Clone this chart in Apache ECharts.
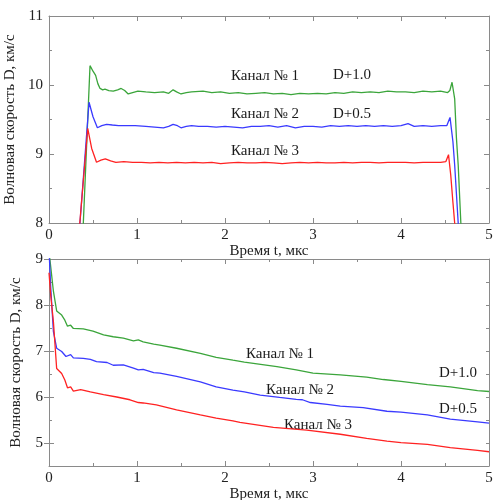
<!DOCTYPE html>
<html><head><meta charset="utf-8">
<script src="https://cdn.jsdelivr.net/npm/echarts@6/dist/echarts.min.js"></script>
<style>html,body{margin:0;padding:0;background:#fff}#c{width:494px;height:500px}</style>
</head><body><div id="c"></div>
<script>
// ---- data ----
const xName = 'Время t, мкс';
const yName = 'Волновая скорость D, км/с';
const seriesNames = ['Канал № 1', 'Канал № 2', 'Канал № 3'];
const offsets = ['D+1.0', 'D+0.5'];
const xTicks = [0, 1, 2, 3, 4, 5];
const yTopTicks = [8, 9, 10, 11];
const yBotTicks = [5, 6, 7, 8, 9];

const topCh1 = [[0.37,7.0],[0.39,8.0],[0.466,10.28],[0.50,10.2],[0.53,10.14],[0.555,10.02],[0.58,9.95],[0.61,9.93],[0.636,9.94],[0.68,9.92],[0.73,9.91],[0.78,9.93],[0.82,9.95],[0.86,9.92],[0.90,9.87],[0.95,9.89],[1.01,9.91],[1.1,9.9],[1.2,9.89],[1.3,9.9],[1.36,9.88],[1.41,9.93],[1.45,9.9],[1.5,9.87],[1.56,9.89],[1.62,9.9],[1.75,9.91],[1.85,9.89],[1.95,9.9],[2.05,9.88],[2.15,9.89],[2.25,9.87],[2.35,9.88],[2.45,9.89],[2.55,9.87],[2.65,9.88],[2.75,9.86],[2.85,9.88],[2.95,9.87],[3.05,9.88],[3.15,9.87],[3.25,9.89],[3.35,9.88],[3.45,9.9],[3.55,9.89],[3.65,9.9],[3.75,9.89],[3.85,9.91],[3.95,9.9],[4.05,9.9],[4.15,9.89],[4.25,9.91],[4.35,9.9],[4.45,9.91],[4.53,9.89],[4.555,9.92],[4.58,10.04],[4.61,9.8],[4.63,9.23],[4.65,8.84],[4.68,8.0],[4.70,7.5]];
const topCh2 = [[0.29,7.0],[0.352,8.0],[0.455,9.75],[0.50,9.54],[0.55,9.38],[0.60,9.41],[0.655,9.43],[0.72,9.42],[0.79,9.41],[0.88,9.41],[0.98,9.41],[1.1,9.4],[1.2,9.39],[1.3,9.38],[1.36,9.4],[1.41,9.43],[1.46,9.41],[1.5,9.38],[1.56,9.4],[1.62,9.41],[1.7,9.4],[1.8,9.4],[1.9,9.39],[2.0,9.4],[2.1,9.39],[2.2,9.38],[2.3,9.4],[2.4,9.4],[2.5,9.41],[2.6,9.39],[2.7,9.41],[2.8,9.38],[2.9,9.4],[3.0,9.4],[3.1,9.39],[3.2,9.41],[3.3,9.4],[3.4,9.41],[3.5,9.4],[3.6,9.41],[3.7,9.4],[3.8,9.41],[3.9,9.4],[4.0,9.41],[4.08,9.44],[4.15,9.4],[4.25,9.41],[4.35,9.4],[4.45,9.41],[4.52,9.41],[4.557,9.53],[4.59,9.18],[4.61,8.84],[4.65,8.0],[4.68,7.4]];
const topCh3 = [[0.28,7.0],[0.35,8.0],[0.44,9.37],[0.485,9.08],[0.54,8.88],[0.59,8.91],[0.64,8.93],[0.7,8.9],[0.76,8.88],[0.85,8.89],[0.95,8.88],[1.05,8.88],[1.15,8.87],[1.25,8.88],[1.35,8.87],[1.45,8.88],[1.55,8.87],[1.65,8.88],[1.75,8.87],[1.85,8.88],[1.95,8.86],[2.05,8.87],[2.15,8.88],[2.25,8.87],[2.35,8.87],[2.45,8.88],[2.55,8.87],[2.65,8.86],[2.75,8.87],[2.85,8.88],[2.95,8.87],[3.05,8.88],[3.15,8.87],[3.25,8.87],[3.35,8.88],[3.45,8.87],[3.55,8.88],[3.65,8.88],[3.75,8.87],[3.85,8.88],[3.95,8.88],[4.05,8.88],[4.15,8.87],[4.25,8.88],[4.35,8.88],[4.45,8.88],[4.51,8.89],[4.54,8.99],[4.565,8.7],[4.59,8.3],[4.61,8.0],[4.64,7.4]];

const botCh1 = [[0,9.4],[0.01,9.0],[0.05,8.3],[0.087,7.87],[0.144,7.78],[0.18,7.67],[0.21,7.54],[0.246,7.56],[0.277,7.49],[0.39,7.48],[0.5,7.43],[0.62,7.35],[0.73,7.31],[0.845,7.28],[0.96,7.22],[1.015,7.24],[1.07,7.2],[1.19,7.15],[1.26,7.13],[1.45,7.06],[1.72,6.95],[1.9,6.86],[2.09,6.8],[2.22,6.76],[2.59,6.66],[2.81,6.59],[3.0,6.52],[3.31,6.48],[3.61,6.43],[3.8,6.38],[4.0,6.34],[4.3,6.27],[4.56,6.22],[4.87,6.14],[5.0,6.12]];
const botCh2 = [[0,9.2],[0.02,8.37],[0.05,7.42],[0.087,7.06],[0.144,6.99],[0.193,6.88],[0.246,6.92],[0.277,6.85],[0.39,6.84],[0.47,6.82],[0.54,6.77],[0.66,6.75],[0.73,6.69],[0.845,6.7],[0.96,6.63],[1.015,6.59],[1.07,6.6],[1.19,6.53],[1.26,6.52],[1.45,6.45],[1.72,6.33],[1.9,6.22],[2.09,6.15],[2.22,6.11],[2.4,6.04],[2.62,5.99],[2.81,5.95],[2.88,5.94],[2.97,5.88],[3.16,5.84],[3.31,5.8],[3.57,5.77],[3.84,5.69],[4.0,5.67],[4.3,5.61],[4.56,5.52],[4.87,5.46],[5.0,5.43]];
const botCh3 = [[0,8.7],[0.02,8.2],[0.05,7.64],[0.087,6.62],[0.144,6.51],[0.18,6.37],[0.21,6.2],[0.246,6.22],[0.277,6.13],[0.36,6.16],[0.47,6.11],[0.62,6.05],[0.77,6.0],[0.92,5.94],[1.015,5.88],[1.07,5.87],[1.22,5.83],[1.45,5.72],[1.72,5.61],[1.9,5.54],[2.09,5.48],[2.17,5.45],[2.55,5.34],[2.93,5.28],[3.31,5.19],[3.61,5.1],[3.84,5.04],[4.0,5.01],[4.3,4.97],[4.56,4.9],[4.87,4.84],[5.0,4.81]];

// ---- style ----
const colors = ['#3ba53b', '#3a3aff', '#ff2222'];
const FONT = '"Liberation Serif", "Times New Roman", serif';
const axisCol = '#8a8a8a';

function xAxes(grid) {
  const base = {
    type: 'value', gridIndex: grid, min: 0, max: 5, interval: 1,
    axisLine: {show: true, onZero: false, lineStyle: {color: axisCol, width: 1}},
    axisTick: {show: true, inside: true, length: 5, lineStyle: {color: axisCol}},
    minorTick: {show: true, splitNumber: 2, length: 3, lineStyle: {color: axisCol}},
    splitLine: {show: false}, minorSplitLine: {show: false}
  };
  return [
    Object.assign({}, base, {position: 'bottom', name: xName, nameLocation: 'middle', nameGap: 19,
      nameTextStyle: {fontFamily: FONT, fontSize: 15, color: '#222'},
      axisLabel: {show: true, margin: 5, fontFamily: FONT, fontSize: 15, color: '#222',
        customValues: xTicks}}),
    Object.assign({}, base, {position: 'top', axisLabel: {show: false}})
  ];
}

function yAxesTop(grid) {
  const base = {
    type: 'value', gridIndex: grid, min: 8, max: 11, interval: 1,
    axisLine: {show: true, onZero: false, lineStyle: {color: axisCol, width: 1}},
    axisTick: {show: true, inside: true, length: 5, lineStyle: {color: axisCol}},
    minorTick: {show: true, splitNumber: 2, length: 3, lineStyle: {color: axisCol}},
    splitLine: {show: false}, minorSplitLine: {show: false}
  };
  return [
    Object.assign({}, base, {position: 'left', name: yName, nameLocation: 'middle', nameGap: 25,
      nameTextStyle: {fontFamily: FONT, fontSize: 15, color: '#222'},
      axisLabel: {show: true, margin: 6, fontFamily: FONT, fontSize: 15, color: '#222', customValues: yTopTicks}}),
    Object.assign({}, base, {position: 'right', axisLabel: {show: false}})
  ];
}

function yAxesBot(grid) {
  const base = {
    type: 'value', gridIndex: grid, min: 4.5, max: 9, interval: 0.5,
    axisLine: {show: true, onZero: false, lineStyle: {color: axisCol, width: 1}},
    axisTick: {show: true, inside: true, length: 3, lineStyle: {color: axisCol}},
    splitLine: {show: false}
  };
  const major = {
    type: 'value', gridIndex: grid, min: 4.5, max: 9, interval: 0.5,
    axisLine: {show: false},
    axisTick: {show: true, inside: true, length: 5, customValues: yBotTicks, lineStyle: {color: axisCol}},
    axisLabel: {show: false}, splitLine: {show: false}
  };
  return [
    Object.assign({}, base, {position: 'left', name: yName, nameLocation: 'middle', nameGap: 25,
      nameTextStyle: {fontFamily: FONT, fontSize: 15, color: '#222'},
      axisLabel: {show: true, margin: 6, fontFamily: FONT, fontSize: 15, color: '#222', customValues: yBotTicks}}),
    Object.assign({}, base, {position: 'right', axisLabel: {show: false}}),
    Object.assign({}, major, {position: 'left'}),
    Object.assign({}, major, {position: 'right'})
  ];
}

const xAxis = [].concat(xAxes(0), xAxes(1));
const yAxis = [].concat(yAxesTop(0), yAxesBot(1));

function line(data, c, xi, yi) {
  return {type: 'line', data: data, xAxisIndex: xi, yAxisIndex: yi, showSymbol: false,
    symbol: 'none', clip: true, lineStyle: {color: c, width: 1.3}, itemStyle: {color: c},
    animation: false, silent: true};
}

const series = [
  line(topCh1, colors[0], 0, 0), line(topCh2, colors[1], 0, 0), line(topCh3, colors[2], 0, 0),
  line(botCh1, colors[0], 2, 2), line(botCh2, colors[1], 2, 2), line(botCh3, colors[2], 2, 2)
];

function txt(x, y, s) {
  return {type: 'text', x: x, y: y, style: {text: s, font: '15px ' + FONT, fill: '#1a1a1a',
    textVerticalAlign: 'middle', verticalAlign: 'middle'}};
}

const graphic = [
  txt(231, 76, seriesNames[0]), txt(333, 75, offsets[0]),
  txt(231, 114, seriesNames[1]), txt(333, 114, offsets[1]),
  txt(231, 151, seriesNames[2]),
  txt(246, 354, seriesNames[0]), txt(439, 373, offsets[0]),
  txt(266, 390, seriesNames[1]), txt(439, 409, offsets[1]),
  txt(284, 425, seriesNames[2])
];

const chart = echarts.init(document.getElementById('c'), null, {renderer: 'canvas'});
chart.setOption({
  animation: false,
  backgroundColor: '#fff',
  grid: [
    {left: 49, top: 16, width: 440, height: 207, containLabel: false, outerBoundsMode: 'none'},
    {left: 49, top: 259, width: 440, height: 207, containLabel: false, outerBoundsMode: 'none'}
  ],
  xAxis: xAxis,
  yAxis: yAxis,
  series: series,
  graphic: graphic
});
</script></body></html>
